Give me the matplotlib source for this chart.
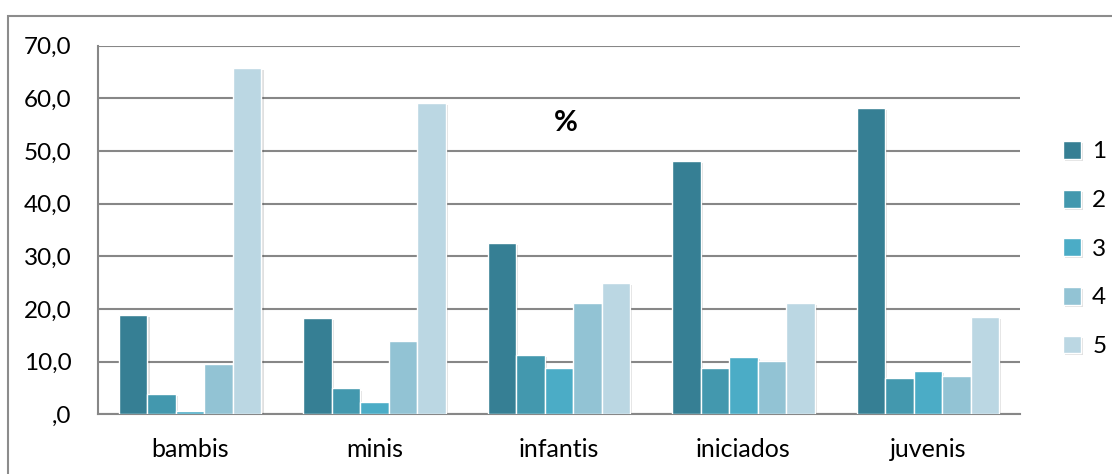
import matplotlib
matplotlib.use("Agg")
import matplotlib.pyplot as plt
import matplotlib.patheffects as pe
from matplotlib.patches import Rectangle
import numpy as np

categories = ["bambis", "minis", "infantis", "iniciados", "juvenis"]
series_names = ["1", "2", "3", "4", "5"]
s1 = [18.8, 18.3, 32.6, 48.0, 58.1]
s2 = [3.9, 4.9, 11.2, 8.7, 6.9]
s3 = [0.7, 2.3, 8.7, 10.9, 8.2]
s4 = [9.6, 14.0, 21.1, 10.1, 7.3]
s5 = [65.8, 59.1, 25.0, 21.1, 18.4]
series = [s1, s2, s3, s4, s5]
colors = ["#367F94", "#4398AE", "#4BACC6", "#92C3D4", "#BBD7E3"]
yticks = [0, 10, 20, 30, 40, 50, 60, 70]
yticklabels = [",0", "10,0", "20,0", "30,0", "40,0", "50,0", "60,0", "70,0"]

plt.rcParams['font.family'] = ['Lato', 'DejaVu Sans']

fig = plt.figure(figsize=(11.12, 4.74), dpi=100)
fig.patches.append(Rectangle((8/1112, -0.1), 1.2, (474-15.5)/474 + 0.1,
                             transform=fig.transFigure, fill=False,
                             edgecolor="#8c8c8c", linewidth=1.5))
ax = fig.add_axes([98/1112, 1-414.3/474, (1020-98)/1112, (414.3-45.5)/474])

x = np.arange(len(categories))
w = 0.1545
for i, (vals, c, name) in enumerate(zip(series, colors, series_names)):
    bars = ax.bar(x + (i - 2) * w, vals, width=w, color=c, edgecolor="white",
                  linewidth=1.0, label=name, zorder=3)
    for b in bars:
        b.set_path_effects([pe.SimplePatchShadow(offset=(1.5, -1.5), shadow_rgbFace="#000000", alpha=0.12), pe.Normal()])

ax.set_xlim(-0.5, len(categories) - 0.5)
ax.set_ylim(0, 70)
ax.set_yticks(yticks)
ax.set_yticklabels(yticklabels, fontsize=17.5)
ax.set_xticks(x)
ax.set_xticklabels(categories, fontsize=18)
ax.tick_params(axis="both", length=0)
ax.tick_params(axis="y", pad=19)
ax.tick_params(axis="x", pad=17)
ax.yaxis.grid(True, color="#878787", linewidth=1.5, zorder=0)
ax.set_axisbelow(True)
for s in ["top", "right"]:
    ax.spines[s].set_visible(False)
ax.spines["left"].set_color("#878787")
ax.spines["left"].set_linewidth(1.5)
ax.spines["bottom"].set_color("#878787")
ax.spines["bottom"].set_linewidth(1.5)

ax.text(0.507, 0.79, "%", transform=ax.transAxes, fontsize=21, fontweight="bold",
        ha="center", va="center")

leg = fig.legend(loc="center left", bbox_to_anchor=(1063/1112, 1-249/474), frameon=False,
                 fontsize=17.5, handlelength=0.75, handleheight=0.75, labelspacing=1.12,
                 handletextpad=0.45, borderpad=0, borderaxespad=0)

fig.savefig("out.png", dpi=100)
